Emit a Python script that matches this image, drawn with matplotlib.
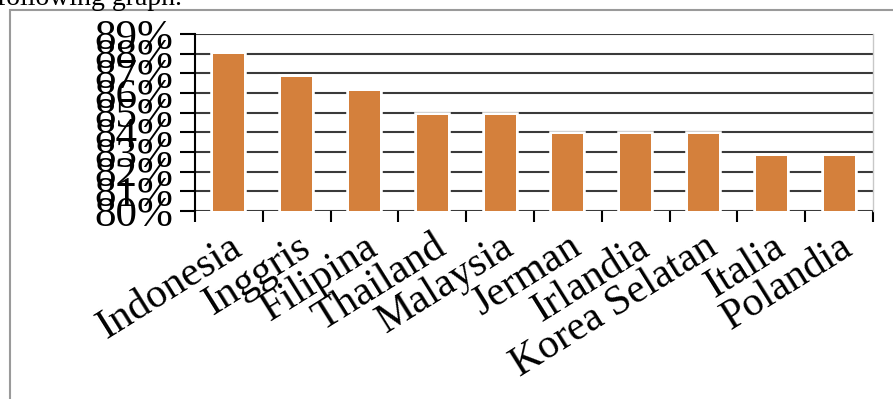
import numpy as np
import matplotlib
matplotlib.use("Agg")
import matplotlib.pyplot as plt
import matplotlib.patheffects as pe
from matplotlib.patches import Rectangle

# data
countries = ["Indonesia", "Inggris", "Filipina", "Thailand", "Malaysia",
             "Jerman", "Irlandia", "Korea Selatan", "Italia", "Polandia"]
values = [88.0, 86.8, 86.1, 84.9, 84.9, 83.9, 83.9, 83.9, 82.8, 82.8]
y_ticks = list(range(80, 90))
y_labels = [f"{v}%" for v in y_ticks]

SERIF = ["Liberation Serif", "DejaVu Serif"]
BAR_COLOR = "#D4803C"
GRID_COLOR = "#3a3a3a"

W, H = 893, 399
fig = plt.figure(figsize=(W / 100, H / 100), dpi=100)

# page frame of the screenshot
fig.patches.append(Rectangle((10 / W, -0.1), 1.2, 1.1 - 10 / H,
                             transform=fig.transFigure, fill=False,
                             edgecolor="#9a9a9a", linewidth=1.5))
fig.text(-0.003, 1 - 5 / H, "following graph.", family=SERIF, fontsize=20,
         va="baseline", ha="left")

ax = fig.add_axes([195 / W, 1 - 211 / H, 678 / W, 177 / H])
x = np.arange(len(countries)) + 0.5

ax.set_axisbelow(True)
ax.yaxis.grid(True, color=GRID_COLOR, linewidth=1.5)
bars = ax.bar(x, values, width=0.46, bottom=0, color=BAR_COLOR, zorder=3)
for b in bars:
    b.set_path_effects([pe.Stroke(linewidth=4, foreground="white"), pe.Normal()])

ax.set_xlim(0, len(countries))
ax.set_ylim(80, 89)

ax.set_yticks(y_ticks)
ax.set_yticklabels(y_labels, family=SERIF, fontsize=31)
ax.tick_params(axis="y", direction="out", length=11, width=1.5, pad=5)

ax.set_xticks(x)
ax.set_xticklabels(countries, family=SERIF, fontsize=30, rotation=32,
                   ha="right", va="top", rotation_mode="anchor")
ax.tick_params(axis="x", which="major", length=0, pad=12)
ax.set_xticks(np.arange(len(countries) + 1), minor=True)
ax.tick_params(axis="x", which="minor", direction="out", length=8, width=1.5)

for s in ["top", "bottom"]:
    ax.spines[s].set_visible(False)
ax.spines["left"].set_linewidth(1.5)
ax.spines["right"].set_color("#c8c8c8")
ax.spines["right"].set_linewidth(1)

fig.savefig("out.png", dpi=100)
